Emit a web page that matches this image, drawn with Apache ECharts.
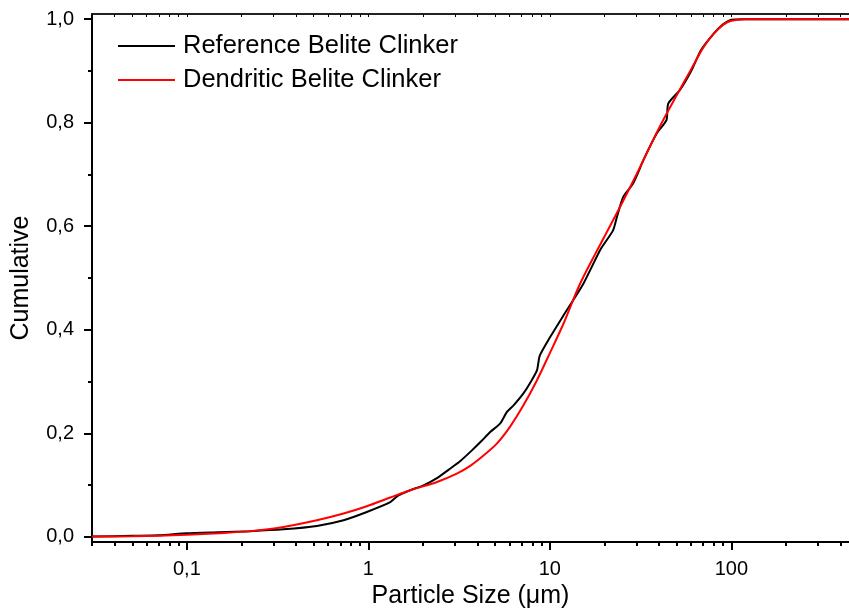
<!DOCTYPE html>
<html style="height: 100%">
<head>
    <meta charset="UTF-8" />
    <title>Particle size distribution</title>
    <script src="https://cdn.jsdelivr.net/npm/echarts@6/dist/echarts.min.js"></script>
</head>
<body style="height: 100%; margin: 0; background: #fff">
    <div id="main" style="width: 849px; height: 614px; margin: 0"></div>
    <script type="text/javascript">
        // particle size (um) / cumulative fraction
        var refSize = [0.03, 0.05, 0.07, 0.1, 0.15, 0.224, 0.34, 0.52, 0.73, 0.98, 1.32, 1.45, 1.7, 2.0, 2.4, 2.83, 3.2, 3.72, 4.2, 4.69, 5.33, 5.79, 6.31, 7.15, 7.93, 8.5, 8.8, 10, 12, 15.3, 19, 22.3, 23.5, 25.4, 28.8, 33, 38.8, 43.9, 44.9, 52, 60.3, 68, 80, 90, 100, 115, 445];
        var refCum = [0.0005, 0.002, 0.003, 0.007, 0.009, 0.011, 0.0145, 0.021, 0.032, 0.048, 0.067, 0.079, 0.09, 0.099, 0.114, 0.132, 0.146, 0.167, 0.185, 0.2025, 0.219, 0.241, 0.254, 0.277, 0.302, 0.322, 0.35, 0.385, 0.43, 0.489, 0.555, 0.592, 0.62, 0.657, 0.683, 0.73, 0.779, 0.805, 0.837, 0.863, 0.901, 0.94, 0.972, 0.99, 0.999, 1.0, 1.0];

        var denSize = [0.03, 0.05, 0.07, 0.1, 0.15, 0.224, 0.34, 0.52, 0.73, 0.98, 1.32, 1.7, 2.39, 3.07, 3.64, 4.31, 5.1, 6.04, 7.15, 8.48, 10, 12, 14.5, 18, 20, 25, 30, 40, 50, 60, 70, 80, 90, 100, 120, 445];
        var denCum = [0.0005, 0.001, 0.002, 0.004, 0.007, 0.011, 0.019, 0.032, 0.045, 0.059, 0.076, 0.09, 0.106, 0.122, 0.137, 0.157, 0.18, 0.213, 0.254, 0.302, 0.355, 0.415, 0.485, 0.55, 0.58, 0.645, 0.7, 0.79, 0.853, 0.903, 0.945, 0.972, 0.989, 0.997, 1.0, 1.0];

        var xMajor = [0.1, 1, 10, 100];
        var xMinor = [0.03, 0.04, 0.05, 0.06, 0.07, 0.08, 0.09, 0.2, 0.3, 0.4, 0.5, 0.6, 0.7, 0.8, 0.9,
            2, 3, 4, 5, 6, 7, 8, 9, 20, 30, 40, 50, 60, 70, 80, 90, 200, 300, 400];
        var yMajor = [0, 0.2, 0.4, 0.6, 0.8, 1.0];
        var yMinor = [0.1, 0.3, 0.5, 0.7, 0.9];

        var font = "'Liberation Sans', Arial, sans-serif";
        var xMin = 0.03, xMax = 445, yMin = -0.01, yMax = 1.01;

        function pairs(xs, ys) {
            return xs.map(function (x, i) { return [x, ys[i]]; });
        }

        var chart = echarts.init(document.getElementById('main'));
        var option = {
            animation: false,
            textStyle: { fontFamily: font, color: '#000' },
            grid: { left: 92, right: 0, top: 14, bottom: 72 },
            legend: {
                orient: 'vertical',
                left: 118,
                top: 33,
                padding: 0,
                icon: 'rect',
                itemWidth: 57,
                itemHeight: 2,
                itemGap: 8,
                textStyle: { fontFamily: font, fontSize: 25.5, color: '#000', lineHeight: 25, padding: [0, 0, 0, 3] },
                data: ['Reference Belite Clinker', 'Dendritic Belite Clinker']
            },
            xAxis: [
                {
                    type: 'log', min: xMin, max: xMax,
                    name: 'Particle Size (\u03bcm)', nameLocation: 'middle', nameGap: 36,
                    nameTextStyle: { fontFamily: font, fontSize: 25, color: '#000' },
                    axisLine: { onZero: false, lineStyle: { color: '#000', width: 2 } },
                    axisTick: { customValues: xMajor, length: 8, lineStyle: { color: '#000', width: 2 } },
                    axisLabel: {
                        customValues: xMajor, margin: 17, fontSize: 20, color: '#000', fontFamily: font,
                        formatter: function (v) { return String(v).replace('.', ','); }
                    },
                    splitLine: { show: false }
                },
                {
                    type: 'log', min: xMin, max: xMax, position: 'bottom',
                    axisLine: { show: false, onZero: false },
                    axisTick: { customValues: xMinor, length: 4, lineStyle: { color: '#000', width: 2 } },
                    axisLabel: { show: false },
                    splitLine: { show: false }
                },
                {
                    type: 'log', min: xMin, max: xMax, position: 'top',
                    axisLine: { onZero: false, lineStyle: { color: '#222', width: 2 } },
                    axisTick: { customValues: xMajor.concat(xMinor), inside: true, length: 3, lineStyle: { color: '#000', width: 1 } },
                    axisLabel: { show: false },
                    splitLine: { show: false }
                }
            ],
            yAxis: [
                {
                    type: 'value', min: yMin, max: yMax,
                    name: 'Cumulative', nameLocation: 'middle', nameGap: 58,
                    nameTextStyle: { fontFamily: font, fontSize: 25, color: '#000' },
                    axisLine: { show: true, onZero: false, lineStyle: { color: '#000', width: 2 } },
                    axisTick: { show: true, customValues: yMajor, length: 8, lineStyle: { color: '#000', width: 2 } },
                    axisLabel: {
                        customValues: yMajor, margin: 18, fontSize: 20, color: '#000', fontFamily: font,
                        formatter: function (v) { return v.toFixed(1).replace('.', ','); }
                    },
                    splitLine: { show: false }
                },
                {
                    type: 'value', min: yMin, max: yMax, position: 'left',
                    axisLine: { show: false, onZero: false },
                    axisTick: { show: true, customValues: yMinor, length: 4, lineStyle: { color: '#000', width: 2 } },
                    axisLabel: { show: false },
                    splitLine: { show: false }
                }
            ],
            series: [
                {
                    name: 'Reference Belite Clinker', type: 'line',
                    data: pairs(refSize, refCum),
                    showSymbol: false, symbol: 'none', smooth: 0.2,
                    lineStyle: { color: '#000', width: 2 },
                    itemStyle: { color: '#000' },
                    z: 3
                },
                {
                    name: 'Dendritic Belite Clinker', type: 'line',
                    data: pairs(denSize, denCum),
                    showSymbol: false, symbol: 'none', smooth: 0.3,
                    lineStyle: { color: '#ff0000', width: 2 },
                    itemStyle: { color: '#ff0000' },
                    z: 4
                }
            ]
        };
        chart.setOption(option);
    </script>
</body>
</html>
